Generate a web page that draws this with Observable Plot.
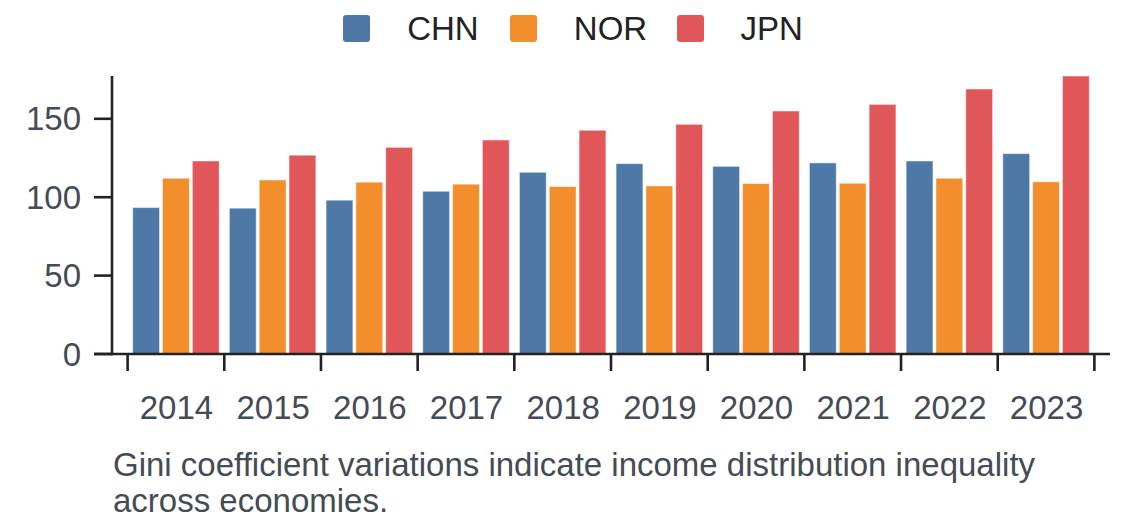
<!DOCTYPE html>
<html><head><meta charset="utf-8">
<script src="https://cdn.jsdelivr.net/npm/d3@7"></script>
<script src="https://cdn.jsdelivr.net/npm/@observablehq/plot@0.6"></script>
<style>
html,body{margin:0;padding:0;background:#fff;}
body{font-family:"Liberation Sans",Arial,sans-serif;width:1140px;}
#legend{height:57px;display:flex;align-items:center;justify-content:center;padding-left:6px;box-sizing:border-box;}
.item{display:flex;align-items:center;flex:0 0 auto;}
.item .sw{width:27px;height:27px;border-radius:3px;margin-right:37px;}
.item span{font-size:33px;line-height:1;color:#222;}
#chart svg{display:block;}
#caption{font-size:33px;line-height:36px;color:#444b55;padding-left:113px;width:990px;margin-top:10px;}
</style></head><body>
<div id="legend"></div>
<div id="chart"></div>
<div id="caption">Gini coefficient variations indicate income distribution inequality across economies.</div>
<script>
const years = ["2014","2015","2016","2017","2018","2019","2020","2021","2022","2023"];
const countries = ["CHN","NOR","JPN"];
const colors = ["#4e79a7","#f28e2b","#e15759"];
const chn = [93.4, 93.0, 98.1, 103.8, 115.9, 121.4, 119.7, 121.9, 123.1, 127.8];
const nor = [112.1, 111.0, 109.6, 108.3, 106.8, 107.2, 108.7, 108.9, 112.1, 109.8];
const jpn = [123.1, 126.8, 131.8, 136.5, 142.7, 146.5, 155.0, 159.2, 169.0, 177.3];
const yTicks = [0, 50, 100, 150];

const series = {CHN: chn, NOR: nor, JPN: jpn};
const rows = years.flatMap((yr, i) => countries.map(c => ({year: yr, country: c, value: series[c][i]})));

// legend
const legend = d3.select("#legend");
countries.forEach((c, i) => {
  const it = legend.append("div").attr("class", "item")
    .style("width", i < countries.length - 1 ? "166.7px" : null);
  it.append("div").attr("class", "sw").style("background", colors[i]);
  it.append("span").text(c);
});

const axisColor = "#222";
const labelColor = "#444b55";
const font = "'Liberation Sans', Arial, sans-serif";

const plot = Plot.plot({
  width: 1140,
  height: 380,
  marginLeft: 112,
  marginRight: 30,
  marginTop: 19,
  marginBottom: 83,
  style: {fontFamily: font, background: "white"},
  fx: {domain: years, paddingInner: 0.105, paddingOuter: 0.214, round: false, label: null},
  x: {domain: countries, paddingInner: 0.1, paddingOuter: 0, round: false, axis: null},
  y: {domain: [0, d3.max(rows, d => d.value)], axis: null},
  color: {domain: countries, range: colors},
  marks: [
    Plot.barY(rows, {fx: "year", x: "country", y: "value", fill: "country",
      stroke: "white", strokeWidth: 1, strokeOpacity: 0.5}),
    Plot.axisFx({anchor: "bottom", tickSize: 0, tickPadding: 41, fontSize: 33, color: labelColor, label: null})
  ]
});
document.getElementById("chart").appendChild(plot);

// axis lines and ticks drawn from Plot's own scales
const svg = d3.select(plot);
const y = plot.scale("y");
const fx = plot.scale("fx");
const x0 = fx.range[0];
const x1 = fx.range[1];
const y0 = y.apply(0);
const yTop = y.apply(y.domain[1]);
const tickLen = 18;
const g = svg.append("g").attr("stroke", axisColor).attr("stroke-width", 2.6).attr("fill", "none");
// y domain line
g.append("line").attr("x1", x0).attr("x2", x0).attr("y1", yTop).attr("y2", y0 + 1.3);
// x domain line
g.append("line").attr("x1", x0 - tickLen).attr("x2", x1).attr("y1", y0).attr("y2", y0);
// y ticks
yTicks.forEach(t => {
  g.append("line").attr("x1", x0 - tickLen).attr("x2", x0).attr("y1", y.apply(t)).attr("y2", y.apply(t));
});
const lbl = svg.append("g").attr("fill", labelColor).attr("font-size", 33).attr("font-family", font).attr("text-anchor", "end");
yTicks.forEach(t => {
  lbl.append("text").attr("x", x0 - tickLen - 13).attr("y", y.apply(t)).attr("dy", "0.35em").text(t);
});
// x boundary ticks between year groups
const gap = fx.step - fx.bandwidth;
const bounds = years.map(yr => fx.apply(yr) - gap / 2);
bounds.push(fx.apply(years[years.length - 1]) + fx.bandwidth + gap / 2);
bounds.forEach(bx => {
  g.append("line").attr("x1", bx).attr("x2", bx).attr("y1", y0).attr("y2", y0 + 17);
});
</script>
</body></html>
